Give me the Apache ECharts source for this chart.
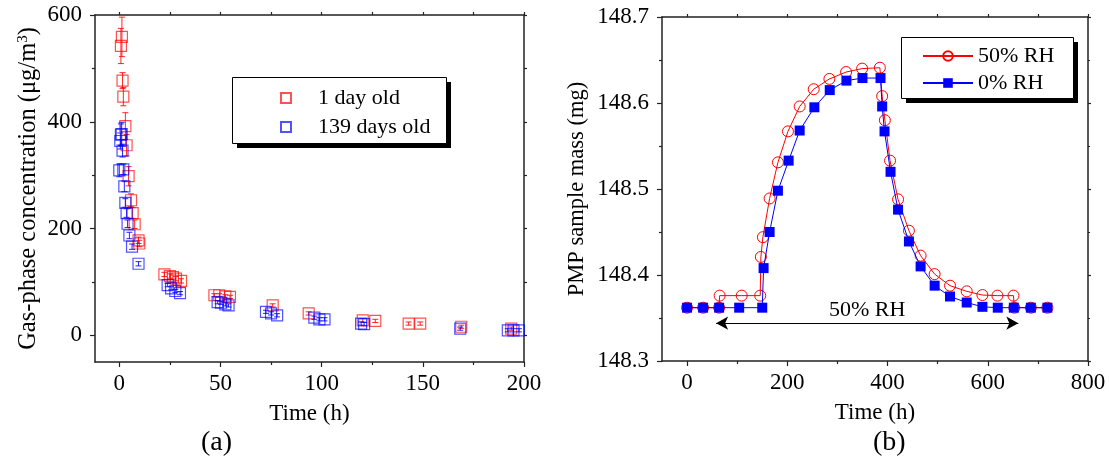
<!DOCTYPE html>
<html>
<head>
<meta charset="utf-8">
<script src="https://cdn.jsdelivr.net/npm/echarts@6/dist/echarts.min.js"></script>
<style>
html,body{margin:0;padding:0;background:#fff;}
#c{width:1109px;height:462px;}
</style>
</head>
<body>
<div id="c"></div>
<script>
// ---- Panel (a): gas-phase concentration (µg/m3) vs time (h) ----
const time1Day = [0.8, 1.3, 1.6, 2.0, 3.0, 3.6, 4.6, 5.8, 6.6, 7.6, 9.5, 9.9, 22.3, 25.0, 26.5, 28.0, 30.5, 47, 49.4, 52.4, 54.7, 75.8, 93.6, 120.3, 126.5, 143, 148.7, 169, 193.7];
const conc1Day = [542, 559, 477, 447, 392, 356, 298, 253, 229, 208, 178, 172, 114, 111, 109, 106, 102, 75, 75, 73, 72, 56, 41, 28, 27, 22, 22, 16, 12.5];
const err1Day  = [33, 37, 15, 17, 25, 20, 18, 12, 10, 8, 6, 6, 4, 4, 4, 4, 4, 3, 3, 3, 3, 3, 3, 3, 3, 3, 3, 3, 3];

const time139Day = [0, 0.5, 0.8, 1.2, 1.6, 2.0, 2.5, 3.0, 3.6, 4.1, 5.0, 6.3, 9.5, 23.9, 25.6, 27.7, 30.0, 48.6, 50.3, 52.4, 54.0, 72.5, 75, 78, 96.4, 98.9, 101.4, 119.5, 121, 168.5, 192, 194.8, 197.5];
const conc139Day = [309, 364, 376, 377, 346, 311, 279, 248, 229, 209, 187, 166, 134, 94, 88, 83, 79, 62, 61, 58, 56, 44, 41, 37.5, 33, 30, 30, 22, 21, 12.5, 9.4, 9.4, 9.4];
const err139Day  = [12, 15, 20, 22, 12, 10, 10, 8, 8, 7, 6, 5, 4, 3, 3, 3, 3, 3, 3, 3, 3, 3, 3, 3, 3, 3, 3, 3, 3, 3, 3, 3, 3];

const xTicksA = [0, 50, 100, 150, 200];
const xMinorA = [25, 75, 125, 175];
const yTicksA = [0, 200, 400, 600];
const yMinorA = [100, 300, 500];

// ---- Panel (b): PMP sample mass (mg) vs time (h) ----
const timeWet = [0, 32, 64, 65, 109, 146, 147.3, 151.3, 164.7, 181.3, 201.3, 224.7, 252.7, 284, 317.3, 349.3, 384.7, 389.3, 394.7, 405, 421, 442.7, 466, 494, 524.7, 558, 589.3, 619.3, 651.3, 653, 686, 719];
const massWet = [148.362, 148.362, 148.362, 148.376, 148.376, 148.376, 148.421, 148.444, 148.489, 148.531, 148.567, 148.596, 148.616, 148.628, 148.636, 148.640, 148.641, 148.608, 148.580, 148.533, 148.488, 148.4515, 148.4225, 148.401, 148.3876, 148.381, 148.3767, 148.376, 148.376, 148.362, 148.362, 148.362];
const timeDry = [0, 32, 64, 104, 150, 152.7, 164.7, 181.3, 202.7, 224.7, 254, 284.7, 318, 350, 386, 389.3, 394, 406, 421, 442.7, 466, 494, 524.7, 558, 589.3, 620, 652, 686, 719];
const massDry = [148.362, 148.362, 148.362, 148.362, 148.362, 148.408, 148.450, 148.498, 148.533, 148.568, 148.595, 148.615, 148.626, 148.629, 148.629, 148.596, 148.567, 148.520, 148.476, 148.439, 148.410, 148.3876, 148.375, 148.368, 148.363, 148.362, 148.362, 148.362, 148.362];
const arrowStart = [58, 148.344];
const arrowEnd = [661, 148.344];

const xTicksB = [0, 200, 400, 600, 800];
const xMinorB = [100, 300, 500, 700];
const xAllB = [0, 100, 200, 300, 400, 500, 600, 700, 800];

const FONT = 'Liberation Serif';
const AX = '#222';

function zip(a, b, c) { return a.map((v, i) => c ? [v, b[i], c[i]] : [v, b[i]]); }

function errRender(color) {
  return function (params, api) {
    const x = api.value(0), y = api.value(1), e = api.value(2);
    const top = api.coord([x, y + e]);
    const bot = api.coord([x, y - e]);
    const w = 3;
    const st = { stroke: color, lineWidth: 1 };
    return {
      type: 'group',
      children: [
        { type: 'line', shape: { x1: top[0], y1: top[1], x2: bot[0], y2: bot[1] }, style: st },
        { type: 'line', shape: { x1: top[0] - w, y1: top[1], x2: top[0] + w, y2: top[1] }, style: st },
        { type: 'line', shape: { x1: bot[0] - w, y1: bot[1], x2: bot[0] + w, y2: bot[1] }, style: st }
      ]
    };
  };
}

const labelStyle = { fontFamily: FONT, fontSize: 23, color: '#000' };

function mainX(grid, min, max, ticks, name, pos) {
  return {
    type: 'value', gridIndex: grid, min: min, max: max, position: pos || 'bottom',
    axisLine: { show: true, onZero: false, lineStyle: { color: AX, width: 1.5 } },
    axisTick: { show: true, inside: false, length: 5, customValues: ticks, lineStyle: { color: AX, width: 1.2 } },
    axisLabel: { show: true, customValues: ticks, margin: 10, ...labelStyle },
    splitLine: { show: false },
    name: name, nameLocation: 'middle', nameGap: 40,
    nameTextStyle: { fontFamily: FONT, fontSize: 23, color: '#000' }
  };
}
function tickOnlyX(grid, min, max, ticks, pos, showLine) {
  return {
    type: 'value', gridIndex: grid, min: min, max: max, position: pos,
    axisLine: { show: !!showLine, onZero: false, lineStyle: { color: AX, width: 1.5 } },
    axisTick: { show: true, inside: false, length: 3, customValues: ticks, lineStyle: { color: AX, width: 1.2 } },
    axisLabel: { show: false },
    splitLine: { show: false }
  };
}
function tickOnlyY(grid, min, max, ticks, pos, showLine) {
  return {
    type: 'value', gridIndex: grid, min: min, max: max, position: pos,
    axisLine: { show: !!showLine, onZero: false, lineStyle: { color: AX, width: 1.5 } },
    axisTick: { show: true, inside: false, length: 3, customValues: ticks, lineStyle: { color: AX, width: 1.2 } },
    axisLabel: { show: false },
    splitLine: { show: false }
  };
}
function legendBox(x, y, w, h) {
  return [
    { type: 'rect', left: x + 5, top: y + 5, z: 20, shape: { width: w, height: h }, style: { fill: '#000' } },
    { type: 'rect', left: x, top: y, z: 21, shape: { width: w, height: h }, style: { fill: '#fff', stroke: '#000', lineWidth: 1 } }
  ];
}

const chart = echarts.init(document.getElementById('c'), null, { renderer: 'canvas' });

const option = {
  backgroundColor: '#fff',
  animation: false,
  textStyle: { fontFamily: FONT },
  grid: [
    { left: 95, top: 15, width: 429, height: 347 },
    { left: 662, top: 17, width: 426, height: 344 }
  ],
  xAxis: [
    mainX(0, -12, 200, xTicksA, 'Time (h)'),
    tickOnlyX(0, -12, 200, xMinorA, 'bottom', false),
    tickOnlyX(0, -12, 200, xTicksA.concat(xMinorA), 'top', true),
    mainX(1, -50, 800, xTicksB, 'Time (h)'),
    tickOnlyX(1, -50, 800, xMinorB, 'bottom', false),
    tickOnlyX(1, -50, 800, xAllB, 'top', true)
  ],
  yAxis: [
    {
      type: 'value', gridIndex: 0, min: -50, max: 600, position: 'left',
      axisLine: { show: true, onZero: false, lineStyle: { color: AX, width: 1.5 } },
      axisTick: { show: true, inside: false, length: 5, customValues: yTicksA, lineStyle: { color: AX, width: 1.2 } },
      axisLabel: { show: true, customValues: yTicksA, margin: 13, ...labelStyle },
      splitLine: { show: false },
      name: 'Gas-phase concentration (μg/m{sup|3})', nameLocation: 'middle', nameGap: 53,
      nameTextStyle: {
        fontFamily: FONT, fontSize: 24.5, color: '#000',
        rich: { sup: { fontFamily: FONT, fontSize: 15, color: '#000', verticalAlign: 'top', padding: [0, 0, 11, 0] } }
      }
    },
    tickOnlyY(0, -50, 600, yMinorA, 'left', false),
    tickOnlyY(0, -50, 600, yTicksA.concat(yMinorA), 'right', true),
    {
      type: 'value', gridIndex: 1, min: 148.3, max: 148.7, interval: 0.1, position: 'left',
      axisLine: { show: true, onZero: false, lineStyle: { color: AX, width: 1.5 } },
      axisTick: { show: true, inside: false, length: 5, lineStyle: { color: AX, width: 1.2 } },
      minorTick: { show: true, splitNumber: 2, length: 3, lineStyle: { color: AX, width: 1.2 } },
      axisLabel: { show: true, margin: 13, ...labelStyle, formatter: v => v.toFixed(1) },
      splitLine: { show: false },
      name: 'PMP sample mass (mg)', nameLocation: 'middle', nameGap: 73,
      nameTextStyle: { fontFamily: FONT, fontSize: 22.5, color: '#000' }
    },
    {
      type: 'value', gridIndex: 1, min: 148.3, max: 148.7, interval: 0.1, position: 'right',
      axisLine: { show: true, onZero: false, lineStyle: { color: AX, width: 1.5 } },
      axisTick: { show: true, inside: false, length: 3, lineStyle: { color: AX, width: 1.2 } },
      minorTick: { show: true, splitNumber: 2, length: 2, lineStyle: { color: AX, width: 1.2 } },
      axisLabel: { show: false },
      splitLine: { show: false }
    }
  ],
  legend: [
    {
      data: ['1 day old', '139 days old'],
      orient: 'vertical', left: 232, top: 77, z: 30,
      padding: [10, 17, 5, 48], itemGap: 7,
      itemWidth: 10, itemHeight: 10,
      selectedMode: false,
      textStyle: { fontFamily: FONT, fontSize: 22, color: '#000', lineHeight: 22, padding: [0, 0, 0, 22] }
    },
    {
      data: ['50% RH', '0% RH'],
      orient: 'vertical', left: 901, top: 37, z: 30,
      padding: [8, 31, 4, 21], itemGap: 5,
      itemWidth: 50, itemHeight: 12,
      selectedMode: false,
      textStyle: { fontFamily: FONT, fontSize: 22, color: '#000', lineHeight: 22 }
    }
  ],
  series: [
    {
      name: 'err-1day', type: 'custom', xAxisIndex: 0, yAxisIndex: 0,
      data: zip(time1Day, conc1Day, err1Day), encode: { x: 0, y: 1 },
      renderItem: errRender('rgba(255,0,0,0.85)'), z: 2
    },
    {
      name: '1 day old', type: 'scatter', xAxisIndex: 0, yAxisIndex: 0,
      data: zip(time1Day, conc1Day), symbol: 'rect', symbolSize: 11,
      itemStyle: { color: 'transparent', borderColor: 'rgba(255,0,0,0.85)', borderWidth: 1.2 }, z: 3
    },
    {
      name: 'err-139day', type: 'custom', xAxisIndex: 0, yAxisIndex: 0,
      data: zip(time139Day, conc139Day, err139Day), encode: { x: 0, y: 1 },
      renderItem: errRender('rgba(0,0,255,0.85)'), z: 4
    },
    {
      name: '139 days old', type: 'scatter', xAxisIndex: 0, yAxisIndex: 0,
      data: zip(time139Day, conc139Day), symbol: 'rect', symbolSize: 11,
      itemStyle: { color: 'transparent', borderColor: 'rgba(0,0,255,0.85)', borderWidth: 1.2 }, z: 5
    },
    {
      name: '50% RH', type: 'line', xAxisIndex: 3, yAxisIndex: 3,
      data: zip(timeWet, massWet), symbol: 'circle', symbolSize: 11, showAllSymbol: true,
      lineStyle: { color: '#ff0000', width: 1 },
      itemStyle: { color: 'transparent', borderColor: '#ff0000', borderWidth: 1 }, z: 3,
      markLine: {
        silent: true, animation: false,
        symbol: ['arrow', 'arrow'], symbolSize: [10, 12],
        lineStyle: { color: '#000', width: 1, type: 'solid' },
        label: { show: true, position: 'insideMiddleTop', distance: 2, formatter: '50% RH', fontFamily: FONT, fontSize: 22, color: '#000' },
        data: [[{ coord: arrowStart }, { coord: arrowEnd }]]
      }
    },
    {
      name: '0% RH', type: 'line', xAxisIndex: 3, yAxisIndex: 3,
      data: zip(timeDry, massDry), symbol: 'rect', symbolSize: 10, showAllSymbol: true,
      lineStyle: { color: '#0000ff', width: 1 },
      itemStyle: { color: '#0000ff' }, z: 4
    }
  ],
  graphic: [
    ...legendBox(232, 77, 214, 66),
    ...legendBox(901, 37, 172, 61),
    { type: 'text', left: 201, top: 429, style: { text: '(a)', font: '28px "Liberation Serif"', fill: '#000' } },
    { type: 'text', left: 873, top: 429, style: { text: '(b)', font: '28px "Liberation Serif"', fill: '#000' } }
  ]
};

chart.setOption(option);
</script>
</body>
</html>
